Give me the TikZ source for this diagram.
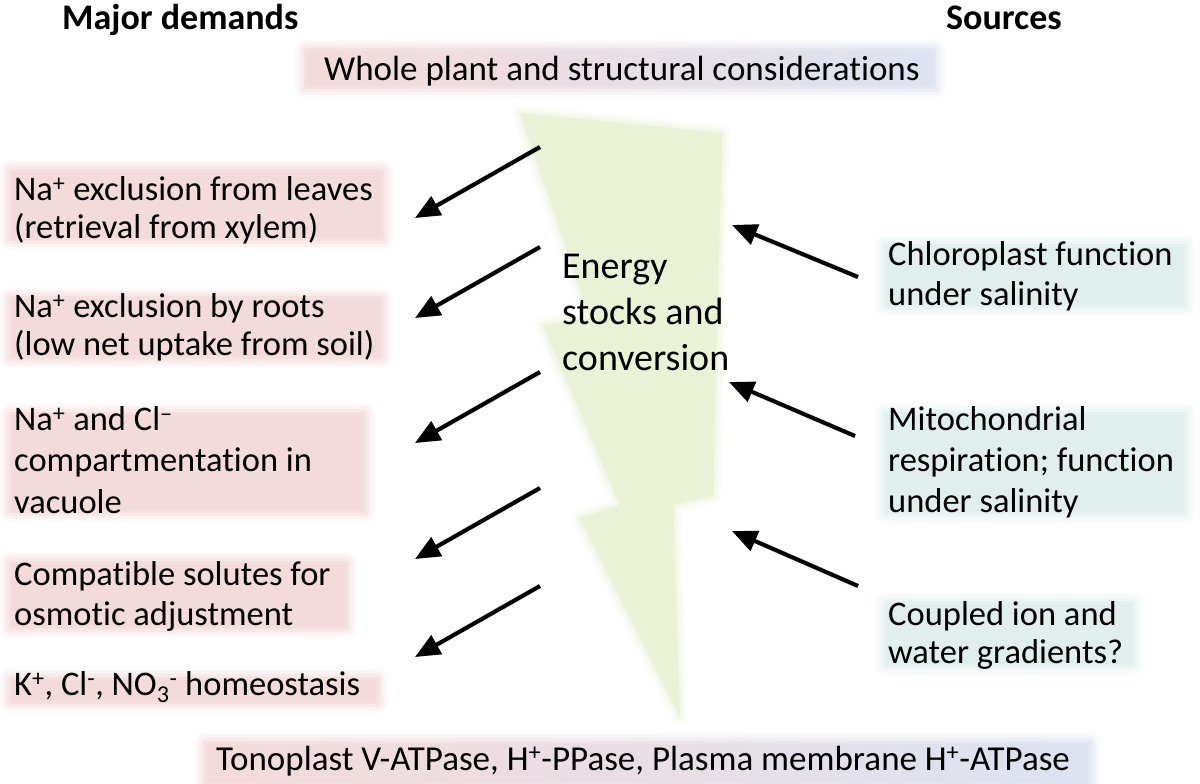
\documentclass[tikz,border=0pt]{standalone}
\usepackage{fontspec}
\setmainfont{Carlito}[Ligatures=NoCommon]
\usetikzlibrary{arrows.meta}
\definecolor{pinkbg}{RGB}{244,216,216}
\definecolor{bluebg}{RGB}{222,237,237}
\definecolor{boltg}{RGB}{233,242,212}
\definecolor{lavbg}{RGB}{218,225,240}
\definecolor{midbg}{RGB}{242,238,242}
\newcommand\softrect[5]{%
 \fill[#1,opacity=0.12,rounded corners=10pt] (#2-10,#3-10) rectangle (#4+10,#5+10);
 \fill[#1,opacity=0.2,rounded corners=7pt] (#2-7,#3-7) rectangle (#4+7,#5+7);
 \fill[#1,opacity=0.3,rounded corners=4pt] (#2-4,#3-4) rectangle (#4+4,#5+4);
 \fill[#1,opacity=0.5,rounded corners=2pt] (#2-1,#3-1) rectangle (#4+1,#5+1);
 \fill[#1,opacity=0.6] (#2+2,#3+2) rectangle (#4-2,#5-2);}
\newcommand\softbar[4]{%
 \shade[left color=pinkbg,middle color=midbg,right color=lavbg,opacity=0.12,rounded corners=10pt] (#1-10,#2-10) rectangle (#3+10,#4+10);
 \shade[left color=pinkbg,middle color=midbg,right color=lavbg,opacity=0.2,rounded corners=7pt] (#1-7,#2-7) rectangle (#3+7,#4+7);
 \shade[left color=pinkbg,middle color=midbg,right color=lavbg,opacity=0.3,rounded corners=4pt] (#1-4,#2-4) rectangle (#3+4,#4+4);
 \shade[left color=pinkbg,middle color=midbg,right color=lavbg,opacity=0.5] (#1-1,#2-1) rectangle (#3+1,#4+1);
 \shade[left color=pinkbg,middle color=midbg,right color=lavbg,opacity=0.6] (#1+2,#2+2) rectangle (#3-2,#4-2);}
\newcommand\fl{\rule{0pt}{30pt}}
\tikzset{
 txt/.style={anchor=north west,inner sep=0pt,align=left,font=\fontsize{34.5}{40}\selectfont},
 head/.style={anchor=base west,inner sep=0pt,font=\fontsize{36}{40}\selectfont\bfseries},
 arr/.style={-{Triangle[length=25pt,width=21pt]},line width=4pt,black},
 arrsh/.style={-{Triangle[length=25pt,width=21pt]},line width=5pt,black!60,opacity=0.25},
}
\begin{document}
\begin{tikzpicture}[x=1pt,y=-1pt]
\useasboundingbox (0,0) rectangle (1200,784);
\fill[white] (0,0) rectangle (1200,784);
% backgrounds
\softbar{305}{50}{935}{88}
\softbar{205}{742}{1090}{784}
\softrect{pinkbg}{10}{170}{383}{240}
\softrect{pinkbg}{10}{297}{382}{358}
\softrect{pinkbg}{10}{413}{365}{512}
\softrect{pinkbg}{10}{562}{347}{628}
\softrect{pinkbg}{10}{678}{378}{703}
\softrect{bluebg}{885}{245}{1185}{306}
\softrect{bluebg}{885}{413}{1185}{513}
\softrect{bluebg}{885}{602}{1133}{665}
% lightning bolt
\coordinate (b1) at (520,113);
\coordinate (b2) at (722,133);
\coordinate (b3) at (713,495);
\coordinate (b4) at (673,505);
\coordinate (b5) at (680,717);
\coordinate (b6) at (580,518);
\coordinate (b7) at (620,505);
\coordinate (b8) at (543,325);
\coordinate (b9) at (590,318);
\foreach \w/\o in {16/0.12,10/0.2,5/0.35}{
 \draw[boltg,line width=\w pt,opacity=\o,line join=round] (b1)--(b2)--(b3)--(b4)--(b5)--(b6)--(b7)--(b8)--(b9)--cycle;}
\fill[boltg] (b1)--(b2)--(b3)--(b4)--(b5)--(b6)--(b7)--(b8)--(b9)--cycle;
% headings
\node[head] (hd) at (62,30) {Major demands};
\node[head] (hs) at (946,30) {Sources};
\node[anchor=base west,inner sep=0pt,font=\fontsize{35}{40}\selectfont] (top) at (324,81) {Whole plant and structural considerations};
\node[anchor=base west,inner sep=0pt,font=\fontsize{35}{40}\selectfont] (bot) at (216,770) {Tonoplast V-ATPase, H\textsuperscript{+}-PPase, Plasma membrane H\textsuperscript{+}-ATPase};
% centre
\node[txt,font=\fontsize{38}{46}\selectfont] (en) at (562,278-30) {\fl Energy\\stocks and\\conversion};
% demands
\node[txt,font=\fontsize{34.5}{38}\selectfont] (d1) at (14,200-30) {\fl Na\textsuperscript{+} exclusion from leaves\\(retrieval from xylem)};
\node[txt,font=\fontsize{34.5}{38}\selectfont] (d2) at (14,317-30) {\fl Na\textsuperscript{+} exclusion by roots\\(low net uptake from soil)};
\node[txt,font=\fontsize{34.5}{41.5}\selectfont] (d3) at (14,430-30) {\fl Na\textsuperscript{+} and Cl\textsuperscript{–}\\compartmentation in\\vacuole};
\node[txt] (d4) at (14,585-30) {\fl Compatible solutes for\\osmotic adjustment};
\node[txt] (d5) at (14,695-30) {\fl K\textsuperscript{+}, Cl\textsuperscript{-}, NO\textsubscript{3}\textsuperscript{-} homeostasis};
% sources
\node[txt] (s1) at (888,265-30) {\fl Chloroplast function\\under salinity};
\node[txt,font=\fontsize{34.5}{41}\selectfont] (s2) at (888,430-30) {\fl Mitochondrial\\respiration; function\\under salinity};
\node[txt,font=\fontsize{34.5}{38}\selectfont] (s3) at (888,625-30) {\fl Coupled ion and\\water gradients?};
% arrow end points
\coordinate (l1s) at (540,147); \coordinate (l1e) at (415,218);
\coordinate (l2s) at (540,247); \coordinate (l2e) at (415,318);
\coordinate (l3s) at (540,372); \coordinate (l3e) at (415,443);
\coordinate (l4s) at (540,488); \coordinate (l4e) at (415,559);
\coordinate (l5s) at (540,586); \coordinate (l5e) at (415,657);
\coordinate (r1s) at (858,277); \coordinate (r1e) at (732,225);
\coordinate (r2s) at (855,436); \coordinate (r2e) at (729,382);
\coordinate (r3s) at (858,586); \coordinate (r3e) at (732,531);
\foreach \a in {l1,l2,l3,l4,l5,r1,r2,r3}{
 \draw[arrsh,shift={(1.5,3)}] (\a s) -- (\a e);
 \draw[arr] (\a s) -- (\a e);}
\end{tikzpicture}
\end{document}
